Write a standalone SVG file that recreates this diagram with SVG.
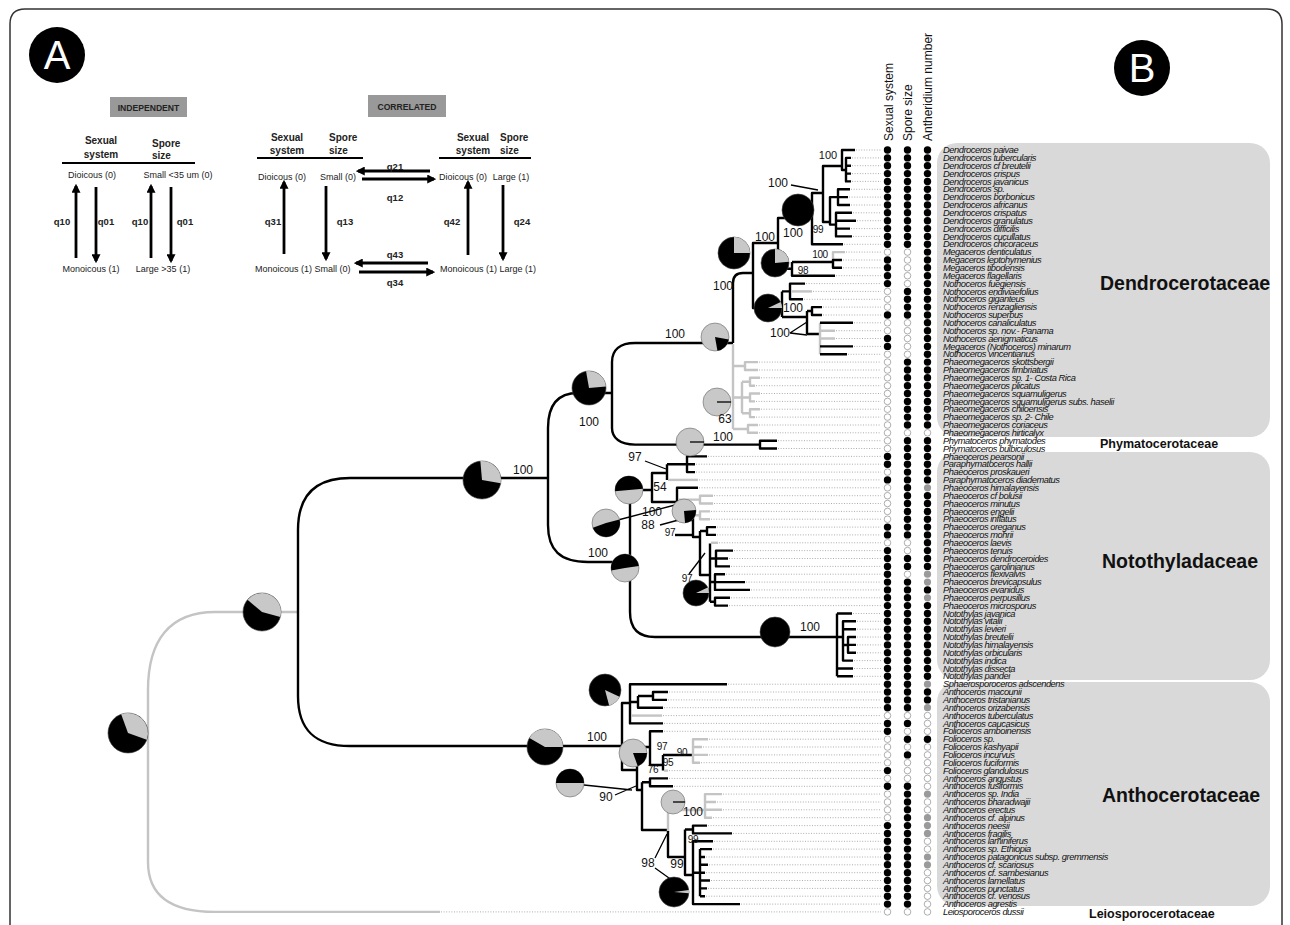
<svg xmlns="http://www.w3.org/2000/svg" width="1290" height="925" viewBox="0 0 1290 925">
<style>
.k{fill:none;stroke:#000;stroke-width:2.4;stroke-linejoin:round}
.gy{fill:none;stroke:#c4c4c4;stroke-width:2.4;stroke-linejoin:round}
.ld{fill:none;stroke:#8a8a8a;stroke-width:0.7;stroke-dasharray:1 1.6}
.tn{fill:none;stroke:#000;stroke-width:1.3}
.bs{font-family:'Liberation Sans',Arial,sans-serif;font-size:12px;text-anchor:middle;fill:#111}
.s{font-size:10px;letter-spacing:-0.4px}
.sp{font-family:'Liberation Sans',Arial,sans-serif;font-size:9.3px;font-style:italic;letter-spacing:-0.45px;fill:#111}
.fam{font-family:'Liberation Sans',Arial,sans-serif;font-weight:bold;font-size:19.5px;fill:#111}
.fs{font-size:12.5px}
.pa{font-family:'Liberation Sans',Arial,sans-serif;font-size:9px;fill:#222;text-anchor:middle}
.pb{font-weight:bold;font-size:10px}
.ph{font-weight:bold;font-size:9.5px}
.bx{font-weight:bold;font-size:8.6px;fill:#222}
.pl{text-anchor:start}
.hd{font-family:'Liberation Sans',Arial,sans-serif;font-size:12px;fill:#111}
.box{fill:#d9d9d9}
.pk{fill:#000;stroke:#444;stroke-width:0.6}
.pg{fill:#c8c8c8;stroke:#666;stroke-width:0.6}
.wk{fill:#000}
.wg{fill:#c8c8c8}
.arr{stroke:#000;stroke-width:2.8;fill:none;marker-end:url(#ah)}
.big{font-family:'Liberation Sans',Arial,sans-serif;font-size:40px;fill:#fff;text-anchor:middle}
</style>
<defs>
<marker id="ah" viewBox="0 0 8 8" refX="6" refY="4" markerWidth="9" markerHeight="9" markerUnits="userSpaceOnUse" orient="auto"><path d="M0,0 L8,4 L0,8 z" fill="#000"/></marker>
<circle id="cb" r="3.7" fill="#000"/>
<circle id="cw" r="3.3" fill="#fff" stroke="#999" stroke-width="0.8"/>
<circle id="cg" r="3.6" fill="#9a9a9a"/>
</defs>
<rect width="1290" height="925" fill="#fff"/>
<path d="M10,925 V24 Q10,9 25,9 H1267 Q1282,9 1282,24 V925" fill="none" stroke="#333" stroke-width="1.5"/>

<g id="panelA-independent">
<circle cx="57" cy="55" r="28" fill="#000"/>
<text class="big" x="57" y="69">A</text>
<rect x="110" y="97" width="77" height="20" fill="#999"/>
<text class="pa bx" x="148.5" y="110.5">INDEPENDENT</text>
<text class="pa pb" x="101" y="144">Sexual</text>
<text class="pa pb" x="101" y="158">system</text>
<text class="pa pb pl" x="152" y="147">Spore</text>
<text class="pa pb pl" x="152" y="159">size</text>
<path d="M62,163 H195" stroke="#000" stroke-width="2"/>
<text class="pa" x="92" y="178">Dioicous (0)</text>
<text class="pa" x="178" y="178">Small &lt;35 um (0)</text>
<path class="arr" d="M76,258 V186"/>
<path class="arr" d="M96,187 V261"/>
<path class="arr" d="M151,258 V186"/>
<path class="arr" d="M171,187 V261"/>
<text class="pa ph" x="62" y="225">q10</text>
<text class="pa ph" x="106" y="225">q01</text>
<text class="pa ph" x="140" y="225">q10</text>
<text class="pa ph" x="185" y="225">q01</text>
<text class="pa" x="91" y="272">Monoicous (1)</text>
<text class="pa" x="163" y="272">Large &gt;35 (1)</text>
</g>

<g id="panelA-correlated">
<rect x="368" y="95" width="78" height="22" fill="#999"/>
<text class="pa bx" x="407" y="109.5">CORRELATED</text>
<text class="pa pb" x="287" y="141">Sexual</text>
<text class="pa pb" x="287" y="154">system</text>
<text class="pa pb pl" x="329" y="141">Spore</text>
<text class="pa pb pl" x="329" y="154">size</text>
<path d="M257,158 H363" stroke="#000" stroke-width="2"/>
<text class="pa pb" x="473" y="141">Sexual</text>
<text class="pa pb" x="473" y="154">system</text>
<text class="pa pb pl" x="500" y="141">Spore</text>
<text class="pa pb pl" x="500" y="154">size</text>
<path d="M439,158 H531" stroke="#000" stroke-width="2"/>
<text class="pa" x="282" y="180">Dioicous (0)</text>
<text class="pa" x="338" y="180">Small (0)</text>
<text class="pa" x="463" y="180">Dioicous (0)</text>
<text class="pa" x="511" y="180">Large (1)</text>
<path class="arr" d="M430,171 H358"/>
<path class="arr" d="M362,179 H434"/>
<text class="pa ph" x="395" y="169.5">q21</text>
<text class="pa ph" x="395" y="200.5">q12</text>
<path class="arr" d="M284,254 V182"/>
<path class="arr" d="M326,186 V259"/>
<text class="pa ph" x="273" y="225">q31</text>
<text class="pa ph" x="345" y="225">q13</text>
<path class="arr" d="M468,255 V182"/>
<path class="arr" d="M503,185 V259"/>
<text class="pa ph" x="452" y="225">q42</text>
<text class="pa ph" x="522" y="225">q24</text>
<path class="arr" d="M428,263 H356"/>
<path class="arr" d="M359,272 H433"/>
<text class="pa ph" x="395" y="257.5">q43</text>
<text class="pa ph" x="395" y="285.5">q34</text>
<text class="pa pl" x="255" y="271.5">Monoicous (1) Small (0)</text>
<text class="pa pl" x="440" y="271.5">Monoicous (1) Large (1)</text>
</g>

<g id="family-boxes">
<rect class="box" x="937" y="143" width="333" height="294" rx="20"/>
<rect class="box" x="937" y="452" width="333" height="228" rx="20"/>
<rect class="box" x="937" y="682" width="333" height="224" rx="20"/>
</g>

<g id="panelB-label">
<circle cx="1142" cy="68" r="28" fill="#000"/>
<text class="big" x="1142" y="82">B</text>
</g>

<g id="column-headers" class="hd">
<text transform="translate(892.5,141) rotate(-90)">Sexual system</text>
<text transform="translate(911.5,141) rotate(-90)">Spore size</text>
<text transform="translate(931.5,141) rotate(-90)">Antheridium number</text>
</g>

<g id="leaders">
<path class="ld" d="M856,150H881M852,157.9H881M852,165.7H881M852,173.6H881M852,181.4H881M851,189.3H881M849,197.1H881M851,205H881M853,212.8H881M857,220.7H881M851,228.6H881M853,236.4H881M844,244.3H881M846,252.1H881M843,260H881M843,267.8H881M836,275.7H881M806,283.6H881M813,291.4H881M804,299.3H881M823,307.1H881M823,315H881M854,322.8H881M836,330.7H881M836,338.5H881M854,346.4H881M848,354.3H881M759,362.1H881M759,370H881M761,377.8H881M756,385.7H881M761,393.5H881M756,401.4H881M761,409.2H881M756,417.1H881M759,425H881M759,432.8H881M778,440.7H881M778,448.5H881M708,456.4H881M696,464.2H881M696,472.1H881M699,479.9H881M699,487.8H881M714,495.7H881M714,503.5H881M711,511.4H881M711,519.2H881M717,527.1H881M717,534.9H881M719,542.8H881M734,550.6H881M729,558.5H881M731,566.4H881M726,574.2H881M746,582.1H881M751,589.9H881M731,597.8H881M729,605.6H881M853,613.5H881M857,621.3H881M857,629.2H881M857,637H881M857,644.9H881M857,652.8H881M854,660.6H881M854,668.5H881M854,676.3H881M728,684.2H881M669,692H881M668,699.9H881M664,707.7H881M663,715.6H881M664,723.4H881M664,731.3H881M709,739.2H881M703,747H881M709,754.9H881M701,762.7H881M669,770.6H881M669,778.4H881M674,786.3H881M723,794.1H881M717,802H881M723,809.8H881M713,817.7H881M708,825.6H881M733,833.4H881M714,841.3H881M713,849.1H881M706,857H881M709,864.8H881M706,872.7H881M711,880.5H881M708,888.4H881M706,896.2H881M741,904.1H881M441,911.9H881"/>
</g>

<g id="connectors">
<path class="gy" d="M148,733 V690 C148,640 170,612 215,612 H298"/>
<path class="gy" d="M148,733 V862 C148,895 170,911.9 215,911.9 H440"/>
<path class="k" d="M128,733 H148"/>
<path class="k" d="M298,612 V530 C298,495 315,478 350,478 H548"/>
<path class="k" d="M298,612 V696 C298,730 315,746 350,746 H622"/>
<path class="k" d="M548,478 V428 C548,405 558,393 578,393 H612"/>
<path class="k" d="M548,478 V525 C548,550 560,562 588,562 H630"/>
<path class="k" d="M612,393 V362 C612,350 620,343 635,343 H733"/>
<path class="k" d="M612,393 V428 C612,438 620,444.6 635,444.6 H760"/>
<path class="k" d="M777,440.7 H760 V448.5 H777"/>
<path class="k" d="M733,343 V283 Q733,273 743,273 H753"/>
<path class="k" d="M778,243 H753 V308 H782"/>
<path class="k" d="M812,218 H778 V268.8 H792"/>
<path class="k" d="M823,193 H812 V244.3 H843"/>
<path class="k" d="M842,166 H823 V222 H830"/>
<path class="k" d="M855,150 H842 V170 H846 M851,157.9 H846 V181.4 H851 M846,165.7 H851 M846,173.6 H851"/>
<path class="k" d="M838,197.1 H830 V224.6 H836 M850,189.3 H838 V205 H850 M838,197.1 H848 M852,212.8 H836 V236.4 H852 M836,220.7 H856 M836,228.6 H850"/>
<path class="gy" d="M833,261 V252.1 H845"/>
<path class="k" d="M842,260 H833 V267.8 H842 M792,262 H833 M792,262 V275.7 H835"/>
<path class="k" d="M782,291.4 V317 M782,291.4 H790 M805,283.6 H790 V299.3 H803"/>
<path class="gy" d="M791,291.4 H812"/>
<path class="k" d="M782,317 H807 M807,311 V334 M807,311 H812 M822,307.1 H812 V315 H822 M807,334 H820"/>
<path class="gy" d="M820,322.8 V354.3 M820,330.7 H835 M820,338.5 H835"/>
<path class="k" d="M820,322.8 H853 M820,346.4 H853 M820,354.3 H847"/>
<path class="gy" d="M733,344 V429 M733,366 H745 M758,362.1 H745 V370 H758 M733,397.5 H742 M742,381.7 V413.2 M742,381.7 H750 M760,377.8 H750 V385.7 H755 M742,397.5 H750 M760,393.5 H750 V401.4 H755 M742,413.2 H750 M760,409.2 H750 V417.1 H755 M733,429 H748 M758,425 H748 V432.8 H758"/>
<path class="k" d="M630,562 V490 H652 M630,562 V612 C630,628 638,637 655,637 H837"/>
<path class="k" d="M667,473 H652 V502 H677"/>
<path class="k" d="M667,464.2 V479.9 M667,464.2 H687 M707,456.4 H687 V472.1 H695 M687,464.2 H695"/>
<path class="gy" d="M668,479.9 H698"/>
<path class="k" d="M698,487.8 H677 V520 H693"/>
<path class="gy" d="M678,499.6 H700 M713,495.7 H700 V503.5 H713"/>
<path class="k" d="M693,515.3 V537 H700"/>
<path class="gy" d="M694,515.3 H700 M710,511.4 H700 V519.2 H710"/>
<path class="k" d="M700,531 V575 H710 M700,531 H707 M716,527.1 H707 V534.9 H716"/>
<path class="k" d="M710,543.5 V601.7 M710,558.5 H716 M733,550.6 H716 V566.4 H730 M716,558.5 H728 M710,582 H715 M725,574.2 H715 V589.9 H750 M715,582.1 H745 M710,601.7 H715 M730,597.8 H715 V605.6 H728"/>
<path class="gy" d="M711,542.8 H718"/>
<path class="k" d="M675,535 H693"/>
<path class="k" d="M837,613.5 V676.3 M837,613.5 H852 M837,637 H843 M856,621.3 H843 V660.6 H853 M843,629.2 H856 M843,645 H848 M856,637 H848 V652.8 H856 M848,644.9 H856 M837,668.5 H853 M837,676.3 H853"/>
<path class="k" d="M630,703 H622 V770 H637"/>
<path class="k" d="M727,684.2 H630 V723.4 H663 M630,702 H638"/>
<path class="gy" d="M631,715.6 H662"/>
<path class="k" d="M638,696 V707.7 H663 M638,696 H653 M668,692 H653 V699.9 H667"/>
<path class="k" d="M650,747 H637 V790 H642"/>
<path class="k" d="M663,731.3 H650 V765 H663 M663,755 V770.6 M663,755 H693"/>
<path class="gy" d="M664,770.6 H668 M708,739.2 H693 V762.7 H700 M693,747 H702 M693,754.9 H708"/>
<path class="k" d="M642,782.3 V830 H668 M642,782.3 H650 M668,778.4 H650 V786.3 H673"/>
<path class="gy" d="M668,802 V832 M668,810 H705 M722,794.1 H705 V817.7 H712 M705,802 H716 M705,809.8 H722"/>
<path class="k" d="M668,831 V857 H685"/>
<path class="k" d="M685,829.5 V875 H693 M685,829.5 H693 M707,825.6 H693 V833.4 H732"/>
<path class="k" d="M713,841.3 H693 V904.1 H740 M693,872.7 H700 M700,849.1 V896.2 M700,849.1 H712 M700,857 H705 M700,864.8 H708 M700,872.7 H705 M700,880.5 H710 M700,888.4 H707 M700,896.2 H705"/>
<path class="tn" d="M791,185 L818,190 M645,461 L666,469 M618,520 L675,505 M660,525 L686,518 M689,574 L705,553 M615,795 L636,786 M584,785 L632,790 M655,858 L667,834 M655,868 L683,888 M790,333 L807,322 M790,333 L807,335"/>
</g>

<g id="pies">
<g><circle class="pk" cx="128" cy="733" r="20"/><path class="wg" d="M128,733 L121.16,714.21 A20,20 0 0 1 146.79,739.84 Z"/></g>
<g><circle class="pk" cx="262" cy="612" r="19"/><path class="wg" d="M262,612 L247.45,599.79 A19,19 0 0 1 280.35,616.92 Z"/></g>
<g><circle class="pk" cx="482" cy="480" r="19"/><path class="wg" d="M482,480 L480.34,461.07 A19,19 0 0 1 500.71,483.3 Z"/></g>
<g><circle class="pk" cx="589" cy="388" r="17"/><path class="wg" d="M589,388 L586.05,371.26 A17,17 0 0 1 605.94,386.52 Z"/></g>
<g><circle class="pg" cx="715" cy="337" r="14"/><path class="wk" d="M715,337 L728.79,339.43 A14,14 0 0 1 717.43,350.79 Z"/></g>
<g><circle class="pk" cx="734" cy="253" r="16"/><path class="wg" d="M734,253 L734,237 A16,16 0 0 1 750,253 Z"/></g>
<g><circle class="pk" cx="798" cy="210" r="16"/></g>
<g><circle class="pk" cx="775" cy="263" r="14"/><path class="wg" d="M775,263 L775,249 A14,14 0 0 1 788.95,261.78 Z"/></g>
<g><circle class="pk" cx="768" cy="308" r="14"/><path class="wg" d="M768,308 L780.69,302.08 A14,14 0 0 1 782,308 Z"/></g>
<g><circle class="pg" cx="717" cy="402" r="14"/><path class="tn" d="M717,402 H731"/></g>
<g><circle class="pg" cx="690" cy="442" r="14"/><path class="tn" d="M690,442 H704"/></g>
<g><circle class="pg" cx="629" cy="490" r="14"/><path class="wk" d="M629,490 L615.05,491.22 A14,14 0 0 1 642.95,488.78 Z"/></g>
<g><circle class="pg" cx="606" cy="523" r="14"/><path class="wk" d="M606,523 L619.52,519.38 A14,14 0 0 1 592.84,527.79 Z"/></g>
<g><circle class="pg" cx="684" cy="511" r="12"/><path class="wk" d="M684,511 L695.95,509.95 A12,12 0 0 1 685.05,522.95 Z"/></g>
<g><circle class="pg" cx="625" cy="568" r="14"/><path class="wk" d="M625,568 L611.21,570.43 A14,14 0 1 1 638.86,566.05 Z"/></g>
<g><circle class="pk" cx="696" cy="593" r="13"/><path class="wg" d="M696,593 L707.78,587.51 A13,13 0 0 1 709,593 Z"/></g>
<g><circle class="pk" cx="775" cy="632" r="15"/></g>
<g><circle class="pk" cx="545" cy="747" r="18"/><path class="wg" d="M545,747 L529.41,738 A18,18 0 0 1 563,747 Z"/></g>
<g><circle class="pk" cx="605" cy="690" r="16"/><path class="wg" d="M605,690 L619.5,696.76 A16,16 0 0 1 609.14,705.45 Z"/></g>
<g><circle class="pg" cx="633" cy="753" r="14"/><path class="wk" d="M633,753 L647,753 A14,14 0 0 1 637.79,766.16 Z"/></g>
<g><circle class="pg" cx="570" cy="783" r="14"/><path class="wk" d="M570,783 L556,783 A14,14 0 0 1 584,783 Z"/></g>
<g><circle class="pg" cx="673" cy="802" r="12"/><path class="tn" d="M673,802 H685"/></g>
<g><circle class="pk" cx="674" cy="892" r="15"/><path class="wg" d="M674,892 L688.85,889.91 A15,15 0 0 1 688.94,893.31 Z"/></g>
</g>

<g id="support-values" class="bs">
<text x="523" y="474">100</text>
<text x="589" y="426">100</text>
<text x="675" y="338">100</text>
<text x="723" y="290">100</text>
<text x="765" y="241">100</text>
<text x="793" y="237">100</text>
<text x="778" y="187">100</text>
<text x="828" y="159" style="font-size:11px">100</text>
<text class="s" x="818" y="233">99</text>
<text class="s" x="820" y="258">100</text>
<text class="s" x="803" y="274">98</text>
<text x="793" y="312">100</text>
<text x="780" y="337">100</text>
<text x="725" y="423">63</text>
<text x="723" y="441">100</text>
<text x="635" y="461">97</text>
<text x="660" y="491">54</text>
<text x="652" y="516">100</text>
<text x="648" y="529">88</text>
<text class="s" x="670" y="536">97</text>
<text class="s" x="687" y="582">97</text>
<text x="598" y="557">100</text>
<text x="810" y="631">100</text>
<text x="597" y="741">100</text>
<text class="s" x="662" y="750">97</text>
<text class="s" x="682" y="756">90</text>
<text class="s" x="668" y="766">95</text>
<text class="s" x="653" y="773">76</text>
<text x="606" y="801">90</text>
<text x="693" y="816">100</text>
<text class="s" x="693" y="843">99</text>
<text x="648" y="867">98</text>
<text x="677" y="868">99</text>
</g>

<g id="dots-sexual-system" transform="translate(887.5,0)">
<use href="#cb" y="150"/><use href="#cb" y="157.9"/><use href="#cb" y="165.7"/><use href="#cb" y="173.6"/><use href="#cb" y="181.4"/><use href="#cb" y="189.3"/><use href="#cb" y="197.1"/><use href="#cb" y="205"/><use href="#cb" y="212.8"/><use href="#cb" y="220.7"/><use href="#cb" y="228.6"/><use href="#cb" y="236.4"/><use href="#cb" y="244.3"/>
<use href="#cw" y="252.1"/><use href="#cb" y="260"/><use href="#cb" y="267.8"/><use href="#cb" y="275.7"/><use href="#cb" y="283.6"/><use href="#cw" y="291.4"/><use href="#cw" y="299.3"/><use href="#cw" y="307.1"/><use href="#cb" y="315"/><use href="#cw" y="322.8"/><use href="#cw" y="330.7"/><use href="#cb" y="338.5"/><use href="#cb" y="346.4"/><use href="#cw" y="354.3"/>
<use href="#cw" y="362.1"/><use href="#cw" y="370"/><use href="#cw" y="377.8"/><use href="#cw" y="385.7"/><use href="#cw" y="393.5"/><use href="#cw" y="401.4"/><use href="#cw" y="409.2"/><use href="#cw" y="417.1"/><use href="#cw" y="425"/><use href="#cw" y="432.8"/><use href="#cw" y="440.7"/><use href="#cw" y="448.5"/>
<use href="#cb" y="456.4"/><use href="#cb" y="464.2"/><use href="#cw" y="472.1"/><use href="#cb" y="479.9"/><use href="#cw" y="487.8"/><use href="#cw" y="495.7"/><use href="#cw" y="503.5"/><use href="#cw" y="511.4"/><use href="#cw" y="519.2"/><use href="#cb" y="527.1"/><use href="#cb" y="534.9"/><use href="#cw" y="542.8"/><use href="#cb" y="550.6"/><use href="#cb" y="558.5"/><use href="#cb" y="566.4"/><use href="#cb" y="574.2"/><use href="#cb" y="582.1"/><use href="#cb" y="589.9"/><use href="#cb" y="597.8"/><use href="#cb" y="605.6"/>
<use href="#cb" y="613.5"/><use href="#cb" y="621.3"/><use href="#cb" y="629.2"/><use href="#cb" y="637"/><use href="#cb" y="644.9"/><use href="#cb" y="652.8"/><use href="#cb" y="660.6"/><use href="#cb" y="668.5"/><use href="#cb" y="676.3"/>
<use href="#cb" y="684.2"/><use href="#cb" y="692"/><use href="#cb" y="699.9"/><use href="#cb" y="707.7"/><use href="#cw" y="715.6"/><use href="#cb" y="723.4"/><use href="#cb" y="731.3"/><use href="#cw" y="739.2"/><use href="#cw" y="747"/><use href="#cw" y="754.9"/><use href="#cw" y="762.7"/><use href="#cb" y="770.6"/><use href="#cw" y="778.4"/><use href="#cb" y="786.3"/><use href="#cw" y="794.1"/><use href="#cw" y="802"/><use href="#cw" y="809.8"/><use href="#cw" y="817.7"/><use href="#cb" y="825.6"/>
<use href="#cb" y="833.4"/><use href="#cb" y="841.3"/><use href="#cb" y="849.1"/><use href="#cb" y="857"/><use href="#cb" y="864.8"/><use href="#cb" y="872.7"/><use href="#cb" y="880.5"/><use href="#cb" y="888.4"/><use href="#cb" y="896.2"/><use href="#cb" y="904.1"/><use href="#cw" y="911.9"/>
</g>

<g id="dots-spore-size" transform="translate(907.5,0)">
<use href="#cb" y="150"/><use href="#cb" y="157.9"/><use href="#cb" y="165.7"/><use href="#cb" y="173.6"/><use href="#cb" y="181.4"/><use href="#cb" y="189.3"/><use href="#cb" y="197.1"/><use href="#cb" y="205"/><use href="#cb" y="212.8"/><use href="#cb" y="220.7"/><use href="#cb" y="228.6"/><use href="#cb" y="236.4"/><use href="#cb" y="244.3"/>
<use href="#cw" y="252.1"/><use href="#cw" y="260"/><use href="#cw" y="267.8"/><use href="#cw" y="275.7"/><use href="#cw" y="283.6"/><use href="#cb" y="291.4"/><use href="#cb" y="299.3"/><use href="#cb" y="307.1"/><use href="#cb" y="315"/><use href="#cw" y="322.8"/><use href="#cw" y="330.7"/><use href="#cw" y="338.5"/><use href="#cw" y="346.4"/><use href="#cw" y="354.3"/>
<use href="#cb" y="362.1"/><use href="#cb" y="370"/><use href="#cb" y="377.8"/><use href="#cb" y="385.7"/><use href="#cb" y="393.5"/><use href="#cb" y="401.4"/><use href="#cb" y="409.2"/><use href="#cb" y="417.1"/><use href="#cb" y="425"/><use href="#cw" y="432.8"/><use href="#cb" y="440.7"/><use href="#cb" y="448.5"/>
<use href="#cb" y="456.4"/><use href="#cb" y="464.2"/><use href="#cb" y="472.1"/><use href="#cb" y="479.9"/><use href="#cb" y="487.8"/><use href="#cb" y="495.7"/><use href="#cb" y="503.5"/><use href="#cb" y="511.4"/><use href="#cb" y="519.2"/><use href="#cb" y="527.1"/><use href="#cb" y="534.9"/><use href="#cw" y="542.8"/><use href="#cw" y="550.6"/><use href="#cb" y="558.5"/><use href="#cb" y="566.4"/><use href="#cw" y="574.2"/><use href="#cb" y="582.1"/><use href="#cb" y="589.9"/><use href="#cb" y="597.8"/><use href="#cb" y="605.6"/>
<use href="#cb" y="613.5"/><use href="#cb" y="621.3"/><use href="#cb" y="629.2"/><use href="#cb" y="637"/><use href="#cb" y="644.9"/><use href="#cb" y="652.8"/><use href="#cb" y="660.6"/><use href="#cb" y="668.5"/><use href="#cb" y="676.3"/>
<use href="#cb" y="684.2"/><use href="#cb" y="692"/><use href="#cb" y="699.9"/><use href="#cb" y="707.7"/><use href="#cw" y="715.6"/><use href="#cb" y="723.4"/><use href="#cw" y="731.3"/><use href="#cb" y="739.2"/><use href="#cw" y="747"/><use href="#cb" y="754.9"/><use href="#cw" y="762.7"/><use href="#cw" y="770.6"/><use href="#cw" y="778.4"/><use href="#cb" y="786.3"/><use href="#cb" y="794.1"/><use href="#cb" y="802"/><use href="#cb" y="809.8"/><use href="#cb" y="817.7"/><use href="#cb" y="825.6"/>
<use href="#cb" y="833.4"/><use href="#cb" y="841.3"/><use href="#cb" y="849.1"/><use href="#cb" y="857"/><use href="#cb" y="864.8"/><use href="#cb" y="872.7"/><use href="#cb" y="880.5"/><use href="#cb" y="888.4"/><use href="#cb" y="896.2"/><use href="#cb" y="904.1"/><use href="#cw" y="911.9"/>
</g>

<g id="dots-antheridium-number" transform="translate(927.5,0)">
<use href="#cb" y="150"/><use href="#cb" y="157.9"/><use href="#cb" y="165.7"/><use href="#cb" y="173.6"/><use href="#cb" y="181.4"/><use href="#cb" y="189.3"/><use href="#cb" y="197.1"/><use href="#cb" y="205"/><use href="#cb" y="212.8"/><use href="#cb" y="220.7"/><use href="#cb" y="228.6"/><use href="#cb" y="236.4"/><use href="#cb" y="244.3"/>
<use href="#cb" y="252.1"/><use href="#cb" y="260"/><use href="#cb" y="267.8"/><use href="#cb" y="275.7"/><use href="#cb" y="283.6"/><use href="#cb" y="291.4"/><use href="#cb" y="299.3"/><use href="#cb" y="307.1"/><use href="#cb" y="315"/><use href="#cb" y="322.8"/><use href="#cb" y="330.7"/><use href="#cb" y="338.5"/><use href="#cb" y="346.4"/><use href="#cb" y="354.3"/>
<use href="#cb" y="362.1"/><use href="#cb" y="370"/><use href="#cb" y="377.8"/><use href="#cb" y="385.7"/><use href="#cb" y="393.5"/><use href="#cb" y="401.4"/><use href="#cb" y="409.2"/><use href="#cb" y="417.1"/><use href="#cb" y="425"/><use href="#cw" y="432.8"/><use href="#cb" y="440.7"/><use href="#cb" y="448.5"/>
<use href="#cb" y="456.4"/><use href="#cb" y="464.2"/><use href="#cb" y="472.1"/><use href="#cb" y="479.9"/><use href="#cg" y="487.8"/><use href="#cb" y="495.7"/><use href="#cb" y="503.5"/><use href="#cb" y="511.4"/><use href="#cb" y="519.2"/><use href="#cb" y="527.1"/><use href="#cb" y="534.9"/><use href="#cb" y="542.8"/><use href="#cb" y="550.6"/><use href="#cb" y="558.5"/><use href="#cb" y="566.4"/><use href="#cg" y="574.2"/><use href="#cg" y="582.1"/><use href="#cb" y="589.9"/><use href="#cg" y="597.8"/><use href="#cb" y="605.6"/>
<use href="#cb" y="613.5"/><use href="#cb" y="621.3"/><use href="#cb" y="629.2"/><use href="#cb" y="637"/><use href="#cb" y="644.9"/><use href="#cb" y="652.8"/><use href="#cb" y="660.6"/><use href="#cb" y="668.5"/><use href="#cb" y="676.3"/>
<use href="#cg" y="684.2"/><use href="#cb" y="692"/><use href="#cb" y="699.9"/><use href="#cg" y="707.7"/><use href="#cw" y="715.6"/><use href="#cw" y="723.4"/><use href="#cw" y="731.3"/><use href="#cb" y="739.2"/><use href="#cw" y="747"/><use href="#cw" y="754.9"/><use href="#cw" y="762.7"/><use href="#cw" y="770.6"/><use href="#cw" y="778.4"/><use href="#cw" y="786.3"/><use href="#cg" y="794.1"/><use href="#cw" y="802"/><use href="#cw" y="809.8"/><use href="#cg" y="817.7"/><use href="#cg" y="825.6"/>
<use href="#cg" y="833.4"/><use href="#cw" y="841.3"/><use href="#cw" y="849.1"/><use href="#cg" y="857"/><use href="#cg" y="864.8"/><use href="#cw" y="872.7"/><use href="#cw" y="880.5"/><use href="#cw" y="888.4"/><use href="#cw" y="896.2"/><use href="#cw" y="904.1"/><use href="#cw" y="911.9"/>
</g>

<g id="taxa" class="sp" transform="translate(943,3.2)">
<text y="150">Dendroceros paivae</text>
<text y="157.9">Dendroceros tubercularis</text>
<text y="165.7">Dendroceros cf breutelii</text>
<text y="173.6">Dendroceros crispus</text>
<text y="181.4">Dendroceros javanicus</text>
<text y="189.3">Dendroceros sp.</text>
<text y="197.1">Dendroceros borbonicus</text>
<text y="205">Dendroceros africanus</text>
<text y="212.8">Dendroceros crispatus</text>
<text y="220.7">Dendroceros granulatus</text>
<text y="228.6">Dendroceros difficilis</text>
<text y="236.4">Dendroceros cucullatus</text>
<text y="244.3">Dendroceros chicoraceus</text>
<text y="252.1">Megaceros denticulatus</text>
<text y="260">Megaceros leptohymenius</text>
<text y="267.8">Megaceros tibodensis</text>
<text y="275.7">Megaceros flagellaris</text>
<text y="283.6">Nothoceros fuegiensis</text>
<text y="291.4">Nothoceros endiviaefolius</text>
<text y="299.3">Nothoceros giganteus</text>
<text y="307.1">Nothoceros renzagliensis</text>
<text y="315">Nothoceros superbus</text>
<text y="322.8">Nothoceros canaliculatus</text>
<text y="330.7">Nothoceros sp. nov.- Panama</text>
<text y="338.5">Nothoceros aenigmaticus</text>
<text y="346.4">Megaceros (Nothoceros) minarum</text>
<text y="354.3">Nothoceros vincentianus</text>
<text y="362.1">Phaeomegaceros skottsbergii</text>
<text y="370">Phaeomegaceros fimbriatus</text>
<text y="377.8">Phaeomegaceros sp. 1- Costa Rica</text>
<text y="385.7">Phaeomegaceros plicatus</text>
<text y="393.5">Phaeomegaceros squamuligerus</text>
<text y="401.4">Phaeomegaceros squamuligerus subs. haselii</text>
<text y="409.2">Phaeomegaceros chiloensis</text>
<text y="417.1">Phaeomegaceros sp. 2- Chile</text>
<text y="425">Phaeomegaceros coriaceus</text>
<text y="432.8">Phaeomegaceros hirticalyx</text>
<text y="440.7">Phymatoceros phymatodes</text>
<text y="448.5">Phymatoceros bulbiculosus</text>
<text y="456.4">Phaeoceros pearsonii</text>
<text y="464.2">Paraphymatoceros hallii</text>
<text y="472.1">Phaeoceros proskaueri</text>
<text y="479.9">Paraphymatoceros diadematus</text>
<text y="487.8">Phaeoceros himalayensis</text>
<text y="495.7">Phaeoceros cf bolusii</text>
<text y="503.5">Phaeoceros minutus</text>
<text y="511.4">Phaeoceros engelii</text>
<text y="519.2">Phaeoceros inflatus</text>
<text y="527.1">Phaeoceros oreganus</text>
<text y="534.9">Phaeoceros mohrii</text>
<text y="542.8">Phaeoceros laevis</text>
<text y="550.6">Phaeoceros tenuis</text>
<text y="558.5">Phaeoceros dendroceroides</text>
<text y="566.4">Phaeoceros carolinianus</text>
<text y="574.2">Phaeoceros flexivalvis</text>
<text y="582.1">Phaeoceros brevicapsulus</text>
<text y="589.9">Phaeoceros evanidus</text>
<text y="597.8">Phaeoceros perpusillus</text>
<text y="605.6">Phaeoceros microsporus</text>
<text y="613.5">Notothylas javanica</text>
<text y="621.3">Notothylas vitalii</text>
<text y="629.2">Notothylas levieri</text>
<text y="637">Notothylas breutelii</text>
<text y="644.9">Notothylas himalayensis</text>
<text y="652.8">Notothylas orbicularis</text>
<text y="660.6">Notothylas indica</text>
<text y="668.5">Notothylas dissecta</text>
<text y="676.3">Notothylas pandei</text>
<text y="684.2">Sphaerosporoceros adscendens</text>
<text y="692">Anthoceros macounii</text>
<text y="699.9">Anthoceros tristanianus</text>
<text y="707.7">Anthoceros orizabensis</text>
<text y="715.6">Anthoceros tuberculatus</text>
<text y="723.4">Anthoceros caucasicus</text>
<text y="731.3">Folioceros amboinensis</text>
<text y="739.2">Folioceros sp.</text>
<text y="747">Folioceros kashyapii</text>
<text y="754.9">Folioceros incurvus</text>
<text y="762.7">Folioceros fuciformis</text>
<text y="770.6">Folioceros glandulosus</text>
<text y="778.4">Anthoceros angustus</text>
<text y="786.3">Anthoceros fusiformis</text>
<text y="794.1">Anthoceros sp. India</text>
<text y="802">Anthoceros bharadwajii</text>
<text y="809.8">Anthoceros erectus</text>
<text y="817.7">Anthoceros cf. alpinus</text>
<text y="825.6">Anthoceros neesii</text>
<text y="833.4">Anthoceros fragilis</text>
<text y="841.3">Anthoceros laminiferus</text>
<text y="849.1">Anthoceros sp. Ethiopia</text>
<text y="857">Anthoceros patagonicus subsp. gremmensis</text>
<text y="864.8">Anthoceros cf. scariosus</text>
<text y="872.7">Anthoceros cf. sambesianus</text>
<text y="880.5">Anthoceros lamellatus</text>
<text y="888.4">Anthoceros punctatus</text>
<text y="896.2">Anthoceros cf. venosus</text>
<text y="904.1">Anthoceros agrestis</text>
<text y="911.9">Leiosporoceros dussii</text>
</g>

<g id="family-labels" class="fam">
<text x="1100" y="290">Dendrocerotaceae</text>
<text class="fs" x="1100" y="447.5">Phymatocerotaceae</text>
<text x="1102" y="568">Notothyladaceae</text>
<text x="1102" y="802">Anthocerotaceae</text>
<text class="fs" x="1089" y="918">Leiosporocerotaceae</text>
</g>
</svg>
